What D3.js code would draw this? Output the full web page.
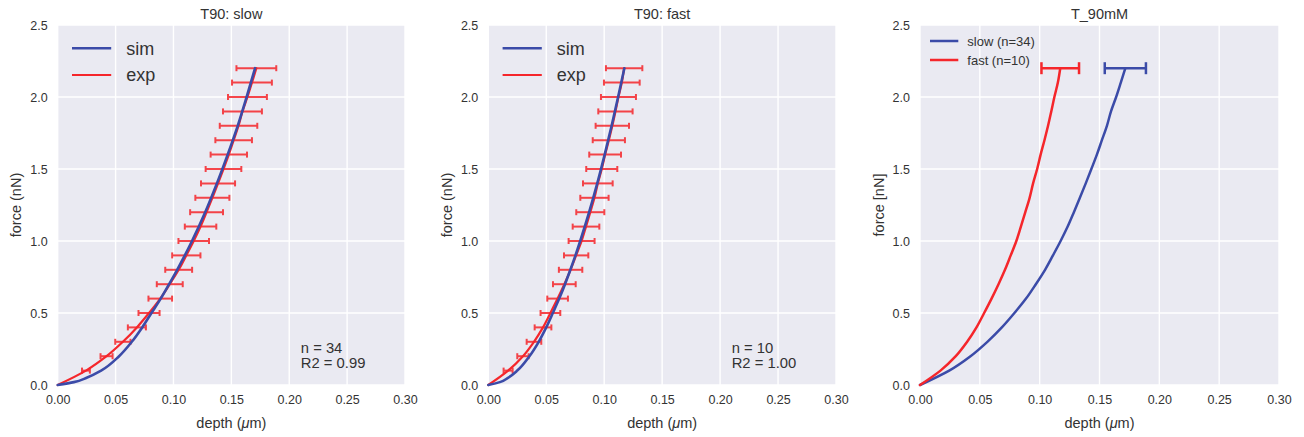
<!DOCTYPE html>
<html><head><meta charset="utf-8">
<script src="https://cdn.jsdelivr.net/npm/d3@7"></script>
<style>
body{margin:0;background:#fff}
text{font-family:Arial,"Liberation Sans",Helvetica,sans-serif;fill:#333}
</style>
</head><body>
<svg id="chart" width="1304" height="437"></svg>
<script>
// ---------- data ----------
const forceLevels = [0.0,0.1,0.2,0.3,0.4,0.5,0.6,0.7,0.8,0.9,1.0,1.1,1.2,1.3,1.4,1.5,1.6,1.7,1.8,1.9,2.0,2.1,2.2];
const slowExpDepth = [0,0.0244,0.0422,0.0563,0.0684,0.0789,0.0886,0.0968,0.1045,0.1111,0.1175,0.1234,0.1286,0.1336,0.1385,0.1432,0.1478,0.1520,0.1562,0.1596,0.1639,0.1678,0.1716];
const slowExpErr   = [0,0.0034,0.0052,0.0066,0.0078,0.0091,0.0102,0.0112,0.0116,0.0122,0.0132,0.0136,0.0142,0.0147,0.0147,0.0154,0.0157,0.0158,0.0162,0.0168,0.0168,0.0172,0.0172];
const fastExpDepth = [0,0.0171,0.0299,0.0394,0.0472,0.0536,0.0598,0.0656,0.0710,0.0758,0.0805,0.0843,0.0880,0.0916,0.0945,0.0979,0.1008,0.1040,0.1070,0.1097,0.1123,0.1152,0.1172];
const fastExpErr   = [0,0.0039,0.0049,0.0063,0.0072,0.0085,0.0089,0.0098,0.0101,0.0105,0.0112,0.0115,0.0121,0.0122,0.0128,0.0134,0.0137,0.0139,0.0144,0.0148,0.0151,0.0154,0.0157];

const simForce     = [0,0.02,0.05,0.1,0.2,0.3,0.4,0.5,0.6,0.7,0.8,0.9,1.0,1.2,1.4,1.6,1.8,2.0,2.2];
const slowSimDepth = [0,0.0140,0.0250,0.0375,0.0530,0.0640,0.0730,0.0810,0.0890,0.0962,0.1032,0.1098,0.1160,0.1274,0.1375,0.1468,0.1555,0.1632,0.1705];
const fastSimDepth = [0,0.0100,0.0170,0.0250,0.0355,0.0435,0.0500,0.0557,0.0612,0.0662,0.0708,0.0752,0.0793,0.0870,0.0940,0.1004,0.1064,0.1120,0.1174];

const xTicks = [0,0.05,0.10,0.15,0.20,0.25,0.30];
const yTicks = [0,0.5,1.0,1.5,2.0,2.5];

const titles = ["T90: slow","T90: fast","T_90mM"];
const yLabels = ["force (nN)","force (nN)","force [nN]"];
const legend12 = ["sim","exp"];
const legend3 = ["slow (n=34)","fast (n=10)"];
const annotations = [["n = 34","R2 = 0.99"],["n = 10","R2 = 1.00"]];

// ---------- style ----------
const BLUE = "#3b4ba8", RED = "#f5262b", BG = "#eaeaf2";
const TOP = 25, BOTTOM = 385;
const panelsX = [[57.7,405],[488.3,836],[920,1279]];

const svg = d3.select("#chart");

function makePanel(i){
  const [L,R] = panelsX[i];
  const x = d3.scaleLinear().domain([0,0.3]).range([L,R]);
  const y = d3.scaleLinear().domain([0,2.5]).range([BOTTOM,TOP]);
  const g = svg.append("g");
  g.append("rect").attr("x",L).attr("y",TOP).attr("width",R-L).attr("height",BOTTOM-TOP).attr("fill",BG);
  g.selectAll(".vg").data(xTicks).join("line")
    .attr("x1",d=>x(d)).attr("x2",d=>x(d)).attr("y1",TOP).attr("y2",BOTTOM)
    .attr("stroke","#fff").attr("stroke-width",1.4);
  g.selectAll(".hg").data(yTicks).join("line")
    .attr("y1",d=>y(d)).attr("y2",d=>y(d)).attr("x1",L).attr("x2",R)
    .attr("stroke","#fff").attr("stroke-width",1.4);
  const ax = g.append("g").attr("transform",`translate(0,${BOTTOM})`)
    .call(d3.axisBottom(x).tickValues(xTicks).tickFormat(d3.format(".2f")).tickSize(0).tickPadding(10.5));
  ax.select(".domain").remove();
  ax.selectAll("text").attr("font-size",12.5).attr("fill","#3a3a3a").style("font-family","Arial,'Liberation Sans',sans-serif");
  const ay = g.append("g").attr("transform",`translate(${L},0)`)
    .call(d3.axisLeft(y).tickValues(yTicks).tickFormat(d3.format(".1f")).tickSize(0).tickPadding(10));
  ay.select(".domain").remove();
  ay.selectAll("text").attr("font-size",12.5).attr("fill","#3a3a3a").style("font-family","Arial,'Liberation Sans',sans-serif");
  g.append("text").attr("x",(L+R)/2).attr("y",19).attr("text-anchor","middle")
    .attr("font-size",14.5).text(titles[i]);
  const xl = g.append("text").attr("x",(L+R)/2).attr("y",427.5).attr("text-anchor","middle").attr("font-size",14.5);
  xl.append("tspan").text("depth (");
  xl.append("tspan").attr("font-style","italic").text("\u03bc");
  xl.append("tspan").text("m)");
  g.append("text").attr("transform",`translate(${L-36.5},${(TOP+BOTTOM)/2}) rotate(-90)`)
    .attr("text-anchor","middle").attr("font-size",14.5).text(yLabels[i]);
  return {g,x,y,L,R};
}

function curve(g,x,y,depths,forces,color,width){
  const pts = depths.map((d,k)=>[d,forces[k]]);
  g.append("path").datum(pts)
    .attr("d",d3.line().x(p=>x(p[0])).y(p=>y(p[1])).curve(d3.curveMonotoneY))
    .attr("fill","none").attr("stroke",color).attr("stroke-width",width)
    .attr("stroke-linejoin","round").attr("stroke-linecap","round");
}

function errorBars(g,x,y,depths,errs,forces,color,width,cap,opacity,onlyLast){
  let data = depths.map((d,k)=>({d,e:errs[k],f:forces[k]})).filter(o=>o.e>0);
  if(onlyLast) data = data.slice(-1);
  const eb = g.append("g").attr("stroke",color).attr("stroke-width",width).attr("opacity",opacity);
  eb.selectAll(".h").data(data).join("line")
    .attr("x1",o=>x(o.d-o.e)).attr("x2",o=>x(o.d+o.e)).attr("y1",o=>y(o.f)).attr("y2",o=>y(o.f));
  eb.selectAll(".cl").data(data).join("line")
    .attr("x1",o=>x(o.d-o.e)).attr("x2",o=>x(o.d-o.e)).attr("y1",o=>y(o.f)-cap).attr("y2",o=>y(o.f)+cap);
  eb.selectAll(".cr").data(data).join("line")
    .attr("x1",o=>x(o.d+o.e)).attr("x2",o=>x(o.d+o.e)).attr("y1",o=>y(o.f)-cap).attr("y2",o=>y(o.f)+cap);
}

[[slowExpDepth,slowExpErr,slowSimDepth],[fastExpDepth,fastExpErr,fastSimDepth]].forEach((set,i)=>{
  const p = makePanel(i);
  errorBars(p.g,p.x,p.y,set[0],set[1],forceLevels,RED,2,3,0.85,false);
  curve(p.g,p.x,p.y,set[0],forceLevels,RED,2.2);
  curve(p.g,p.x,p.y,set[2],simForce,BLUE,2.6);
  const lg = p.g.append("g");
  [[BLUE,2.6],[RED,2.2]].forEach((c,k)=>{
    const yy = 48.3 + k*26.7;
    lg.append("line").attr("x1",p.L+14.3).attr("x2",p.L+53.5).attr("y1",yy).attr("y2",yy)
      .attr("stroke",c[0]).attr("stroke-width",c[1]);
    lg.append("text").attr("x",p.L+68.5).attr("y",yy).attr("dy","0.35em").attr("font-size",18).text(legend12[k]);
  });
  annotations[i].forEach((t,k)=>{
    p.g.append("text").attr("x",p.x(0.21)).attr("y",p.y(0.118)-15+15*k).attr("font-size",14.8).text(t);
  });
});

{
  const p = makePanel(2);
  curve(p.g,p.x,p.y,slowExpDepth,forceLevels,BLUE,2.5);
  curve(p.g,p.x,p.y,fastExpDepth,forceLevels,RED,2.5);
  errorBars(p.g,p.x,p.y,slowExpDepth,slowExpErr,forceLevels,BLUE,2.5,6,1,true);
  errorBars(p.g,p.x,p.y,fastExpDepth,fastExpErr,forceLevels,RED,2.5,6,1,true);
  const lg = p.g.append("g");
  [BLUE,RED].forEach((c,k)=>{
    const yy = 41 + k*19;
    lg.append("line").attr("x1",p.L+10).attr("x2",p.L+38.3).attr("y1",yy).attr("y2",yy)
      .attr("stroke",c).attr("stroke-width",2.5);
    lg.append("text").attr("x",p.L+47.3).attr("y",yy).attr("dy","0.35em").attr("font-size",13).text(legend3[k]);
  });
}
</script>
</body></html>
